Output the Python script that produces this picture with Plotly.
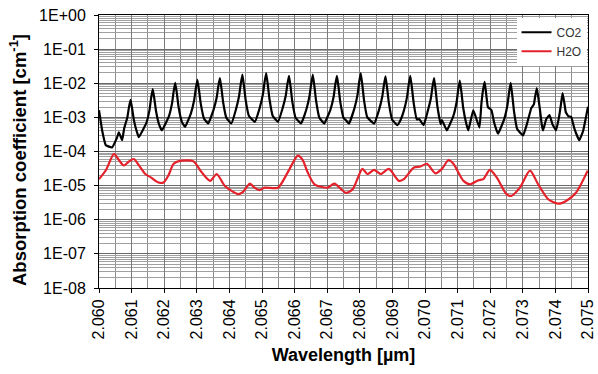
import plotly.graph_objects as go

# ---- data ----
co2_wl = [2.06000, 2.06010, 2.06021, 2.06040, 2.06055, 2.06061, 2.06071,
          2.06077, 2.06087, 2.06092, 2.06097, 2.06102, 2.06107, 2.06117, 2.06122,
          2.06145, 2.06155, 2.06160, 2.06165, 2.06170, 2.06175, 2.06185, 2.06193,
          2.06214, 2.06224, 2.06229, 2.06234, 2.06239, 2.06244, 2.06254, 2.06264,
          2.06282, 2.06292, 2.06297, 2.06302, 2.06307, 2.06312, 2.06322, 2.06335,
          2.06351, 2.06361, 2.06366, 2.06371, 2.06376, 2.06381, 2.06391, 2.06406,
          2.06420, 2.06430, 2.06435, 2.06440, 2.06445, 2.06450, 2.06460, 2.06478,
          2.06493, 2.06503, 2.06508, 2.06513, 2.06518, 2.06523, 2.06533, 2.06549,
          2.06563, 2.06573, 2.06578, 2.06583, 2.06588, 2.06593, 2.06603, 2.06620,
          2.06636, 2.06646, 2.06651, 2.06656, 2.06661, 2.06666, 2.06676, 2.06691,
          2.06710, 2.06720, 2.06725, 2.06730, 2.06735, 2.06740, 2.06750, 2.06757, 2.06767,
          2.06783, 2.06793, 2.06798, 2.06803, 2.06808, 2.06813, 2.06823, 2.06844,
          2.06859, 2.06869, 2.06874, 2.06879, 2.06884, 2.06889, 2.06899, 2.06915,
          2.06925, 2.06935, 2.06945, 2.06950, 2.06955, 2.06960, 2.06965, 2.06975, 2.06982, 2.06996,
          2.07008, 2.07018, 2.07023, 2.07028, 2.07033, 2.07038, 2.07048, 2.07052, 2.07067,
          2.07087, 2.07097, 2.07102, 2.07107, 2.07112, 2.07117, 2.07127, 2.07133,
          2.07148, 2.07167,
          2.07173, 2.07178, 2.07183, 2.07188, 2.07193, 2.07204, 2.07212, 2.07224,
          2.07243, 2.07253, 2.07258, 2.07263, 2.07268, 2.07273, 2.07283, 2.07301,
          2.07314, 2.07326, 2.07334, 2.07338, 2.07343, 2.07348, 2.07353, 2.07358, 2.07362,
          2.07372, 2.07382, 2.07391, 2.07402,
          2.07411, 2.07417, 2.07422, 2.07427, 2.07432, 2.07440, 2.07448, 2.07459, 2.07473,
          2.07485, 2.07500]
co2_log = [-2.79, -3.40, -3.82, -3.88, -3.60, -3.44, -3.67,
           -3.33, -3.00, -2.70, -2.49, -2.76, -3.08, -3.45, -3.58,
           -3.17, -2.78, -2.42, -2.17, -2.47, -2.82, -3.23, -3.38,
           -2.98, -2.59, -2.24, -1.99, -2.31, -2.69, -3.13, -3.28,
           -2.88, -2.49, -2.15, -1.90, -2.22, -2.59, -3.03, -3.18,
           -2.79, -2.42, -2.09, -1.85, -2.18, -2.57, -3.02, -3.18,
           -2.77, -2.36, -2.01, -1.75, -2.10, -2.50, -2.96, -3.13,
           -2.72, -2.31, -1.96, -1.70, -2.06, -2.47, -2.96, -3.13,
           -2.74, -2.36, -2.02, -1.78, -2.13, -2.54, -3.01, -3.18,
           -2.77, -2.36, -2.01, -1.75, -2.11, -2.52, -3.01, -3.18,
           -2.77, -2.38, -2.03, -1.78, -2.13, -2.54, -3.01, -3.08, -3.18,
           -2.75, -2.34, -1.97, -1.70, -2.07, -2.50, -3.00, -3.18,
           -2.78, -2.39, -2.05, -1.80, -2.16, -2.57, -3.06, -3.23,
           -3.08, -2.81, -2.40, -2.04, -1.78, -2.14, -2.56, -3.06, -3.05, -3.23,
           -2.83, -2.44, -2.10, -1.85, -2.23, -2.68, -3.20, -3.08, -3.38,
           -2.96, -2.55, -2.18, -1.92, -2.28, -2.71, -3.20, -3.38,
           -2.79, -3.30,
           -2.60, -2.20, -1.96, -2.34, -2.70, -2.79, -3.15, -3.48,
           -3.05, -2.63, -2.26, -1.99, -2.38, -2.82, -3.35, -3.53,
           -3.15, -2.73, -2.62, -2.38, -2.14, -2.45, -2.80, -3.20, -3.38,
           -3.05, -2.93, -3.20, -3.38,
           -3.00, -2.62, -2.29, -2.55, -2.85, -2.97, -2.98, -3.35, -3.67,
           -3.40, -2.69]

h2o_wl = [2.06000, 2.06021, 2.06046, 2.06061, 2.06076, 2.06091, 2.06107,
          2.06122, 2.06142, 2.06159, 2.06183, 2.06198, 2.06213, 2.06229,
          2.06254, 2.06290, 2.06315, 2.06341, 2.06361, 2.06386, 2.06427,
          2.06442, 2.06463, 2.06476, 2.06493, 2.06508, 2.06549, 2.06579,
          2.06610, 2.06625, 2.06640, 2.06661, 2.06701, 2.06722, 2.06757,
          2.06778, 2.06808, 2.06823, 2.06844, 2.06864, 2.06889, 2.06920,
          2.06935, 2.06966, 2.06986, 2.07006, 2.07032, 2.07052, 2.07072,
          2.07087, 2.07118, 2.07138, 2.07164, 2.07179, 2.07199, 2.07220,
          2.07250, 2.07265, 2.07291, 2.07322, 2.07347, 2.07378, 2.07408,
          2.07433, 2.07463, 2.07499]
h2o_log = [-4.81, -4.55, -4.07, -4.25, -4.41, -4.30, -4.22,
           -4.40, -4.66, -4.76, -4.91, -4.91, -4.70, -4.36,
           -4.27, -4.29, -4.61, -4.86, -4.66, -5.01, -5.25,
           -5.18, -4.94, -5.05, -5.13, -5.06, -5.06, -4.61,
           -4.12, -4.25, -4.61, -4.96, -5.06, -4.94, -5.21,
           -5.11, -4.51, -4.66, -4.54, -4.66, -4.51, -4.86,
           -4.81, -4.47, -4.44, -4.36, -4.64, -4.51, -4.25,
           -4.36, -4.86, -4.96, -4.84, -4.81, -4.54, -4.76,
           -5.25, -5.30, -5.06, -4.56, -4.96, -5.40, -5.53,
           -5.45, -5.21, -4.56]

x_ticks = [2.060, 2.061, 2.062, 2.063, 2.064, 2.065, 2.066, 2.067,
           2.068, 2.069, 2.070, 2.071, 2.072, 2.073, 2.074, 2.075]
x_ticklabels = ["2.060", "2.061", "2.062", "2.063", "2.064", "2.065", "2.066", "2.067",
                "2.068", "2.069", "2.070", "2.071", "2.072", "2.073", "2.074", "2.075"]
y_exponents = [-8, -7, -6, -5, -4, -3, -2, -1, 0]
y_ticklabels = ["1E-08", "1E-07", "1E-06", "1E-05", "1E-04", "1E-03", "1E-02", "1E-01", "1E+00"]

# ---- figure ----
FONT = "Liberation Sans, Arial, sans-serif"
W, H = 598, 374
ML, MR, MT, MB = 99, 10, 15, 86

fig = go.Figure()
fig.add_trace(go.Scatter(x=co2_wl, y=[10 ** v for v in co2_log], mode="lines",
                         name="CO2",
                         line=dict(color="black", width=2.2, shape="spline", smoothing=0.3)))
fig.add_trace(go.Scatter(x=h2o_wl, y=[10 ** v for v in h2o_log], mode="lines",
                         name="H2O",
                         line=dict(color="#e3222b", width=2.2, shape="spline", smoothing=0.7)))

minor_y = [k * 10.0 ** e for e in range(-8, 0) for k in range(2, 10)]

plot_w = W - ML - MR
plot_h = H - MT - MB
fig.update_layout(
    width=W, height=H,
    margin=dict(l=ML, r=MR, t=MT, b=MB),
    paper_bgcolor="white", plot_bgcolor="white",
    font=dict(family=FONT, color="black", size=16),
    showlegend=True,
    legend=dict(x=0.997, y=0.99, xanchor="right", yanchor="top",
                bgcolor="white", borderwidth=0,
                font=dict(size=12, color="#333333"),
                tracegroupgap=2, itemwidth=30),
    annotations=[dict(
        text="<b>Absorption coefficient [cm<sup>-1</sup>]</b>",
        textangle=-90, showarrow=False,
        xref="paper", yref="paper",
        x=(18 - ML) / plot_w, y=(MT + plot_h - 160) / plot_h,
        xanchor="center", yanchor="middle",
        font=dict(size=18.5, family=FONT, color="black"),
    )],
)
fig.update_xaxes(
    automargin=False,
    range=[2.0599999, 2.0750001],
    tickmode="array", tickvals=x_ticks, ticktext=x_ticklabels,
    tickangle=-90, tickfont=dict(size=16),
    ticklabeloverflow="allow",
    ticks="outside", ticklen=4, tickcolor="black",
    showgrid=True, gridcolor="#7a7a7a", gridwidth=1,
    minor=dict(tick0=2.060, dtick=0.0005, showgrid=True, gridcolor="#8c8c8c", ticks=""),
    showline=True, linecolor="black", linewidth=1, mirror=True,
    zeroline=False,
    title=dict(text="<b>Wavelength [µm]</b>", font=dict(size=18), standoff=9),
)
fig.update_yaxes(
    automargin=False,
    type="log", range=[-8, 0],
    tickmode="array", tickvals=[10.0 ** e for e in y_exponents], ticktext=y_ticklabels,
    tickfont=dict(size=16),
    ticklabelstandoff=5,
    ticks="outside", ticklen=4, tickcolor="black",
    showgrid=True, gridcolor="#6a6a6a", gridwidth=1,
    minor=dict(tickvals=minor_y, showgrid=True, gridcolor="#a0a0a0", ticks=""),
    showline=True, linecolor="black", linewidth=1, mirror=True,
)

fig.write_html("out.html")
